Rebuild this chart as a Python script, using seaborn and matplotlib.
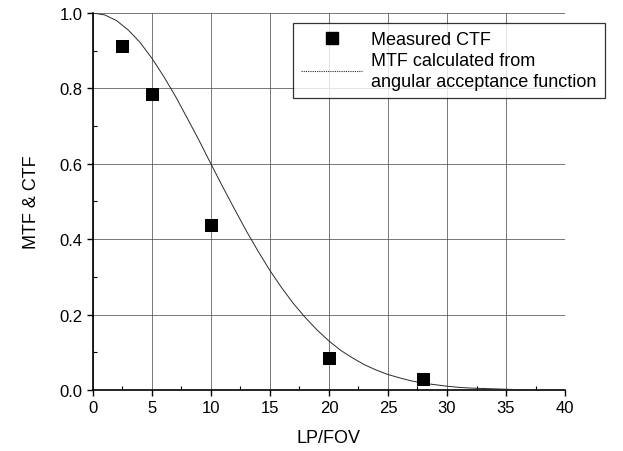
import seaborn as sns
import matplotlib.pyplot as plt
import pandas as pd
from matplotlib.ticker import MultipleLocator
from matplotlib.lines import Line2D

# Datos medidos (CTF)
lp_medido = [2.5, 5, 10, 20, 28]
ctf_medido = [0.912, 0.785, 0.437, 0.086, 0.028]

# Curva MTF
lp_curva = list(range(0, 41))
mtf_curva = [1.000, 0.995, 0.980, 0.955, 0.922, 0.880, 0.832, 0.779, 0.721, 0.662,
             0.600, 0.539, 0.480, 0.422, 0.368, 0.317, 0.271, 0.229, 0.192, 0.159,
             0.130, 0.105, 0.085, 0.067, 0.053, 0.041, 0.032, 0.024, 0.018, 0.014,
             0.010, 0.007, 0.005, 0.004, 0.003, 0.002, 0.001, 0.001, 0.000, 0.000,
             0.000]

df_medido = pd.DataFrame({'LP/FOV': lp_medido, 'valor': ctf_medido})
df_curva = pd.DataFrame({'LP/FOV': lp_curva, 'valor': mtf_curva})

sns.set_style('ticks')
plt.rcParams['font.family'] = ['Liberation Sans', 'DejaVu Sans']
plt.rcParams['text.color'] = 'black'
plt.rcParams['axes.labelcolor'] = 'black'
plt.rcParams['xtick.color'] = 'black'
plt.rcParams['ytick.color'] = 'black'
plt.rcParams['axes.edgecolor'] = 'black'

fig = plt.figure(figsize=(6.23, 4.52), dpi=100)
ax = fig.add_axes([0.149, 0.135, 0.758, 0.834])

sns.lineplot(data=df_curva, x='LP/FOV', y='valor', ax=ax,
             color='#2a2a2a', linewidth=0.7, zorder=3)
sns.scatterplot(data=df_medido, x='LP/FOV', y='valor', ax=ax,
                marker='s', s=85, color='black', edgecolor='black', zorder=4)

ax.set_xlim(0, 40)
ax.set_ylim(0, 1.0)
ax.xaxis.set_major_locator(MultipleLocator(5))
ax.xaxis.set_minor_locator(MultipleLocator(2.5))
ax.yaxis.set_major_locator(MultipleLocator(0.2))
ax.yaxis.set_minor_locator(MultipleLocator(0.1))
ax.yaxis.set_major_formatter(plt.FormatStrFormatter('%.1f'))

ax.grid(True, which='major', color='#555555', linewidth=0.7, alpha=0.8)
ax.tick_params(axis='both', which='major', labelsize=12, length=4, width=1, direction='out')
ax.tick_params(axis='both', which='minor', length=3, width=0.8, direction='in')
ax.set_xlabel('LP/FOV', fontsize=13, labelpad=10)
ax.set_ylabel('MTF & CTF', fontsize=13, labelpad=14)

sns.despine(ax=ax)
ax.spines['left'].set_linewidth(1.2)
ax.spines['bottom'].set_linewidth(1.2)

# Leyenda: cuadro primero, luego la curva punteada
handles = [Line2D([], [], marker='s', linestyle='none', color='black', markersize=8),
           Line2D([], [], color='#2a2a2a', linewidth=0.8, linestyle=(0, (1, 1)))]
labels = ['Measured CTF', 'MTF calculated from\nangular acceptance function']
leg = ax.legend(handles, labels, loc='upper right',
                bbox_to_anchor=(0.971, 0.947), bbox_transform=fig.transFigure,
                borderaxespad=0,
                fontsize=13, frameon=True, fancybox=False, edgecolor='black',
                handlelength=3.4, borderpad=0.45, labelspacing=0.2, handletextpad=0.5)
for t in leg.get_texts():
    t.set_linespacing(1.35)
leg.get_frame().set_linewidth(0.9)
leg.set_zorder(10)

fig.savefig('out.png', dpi=100)
